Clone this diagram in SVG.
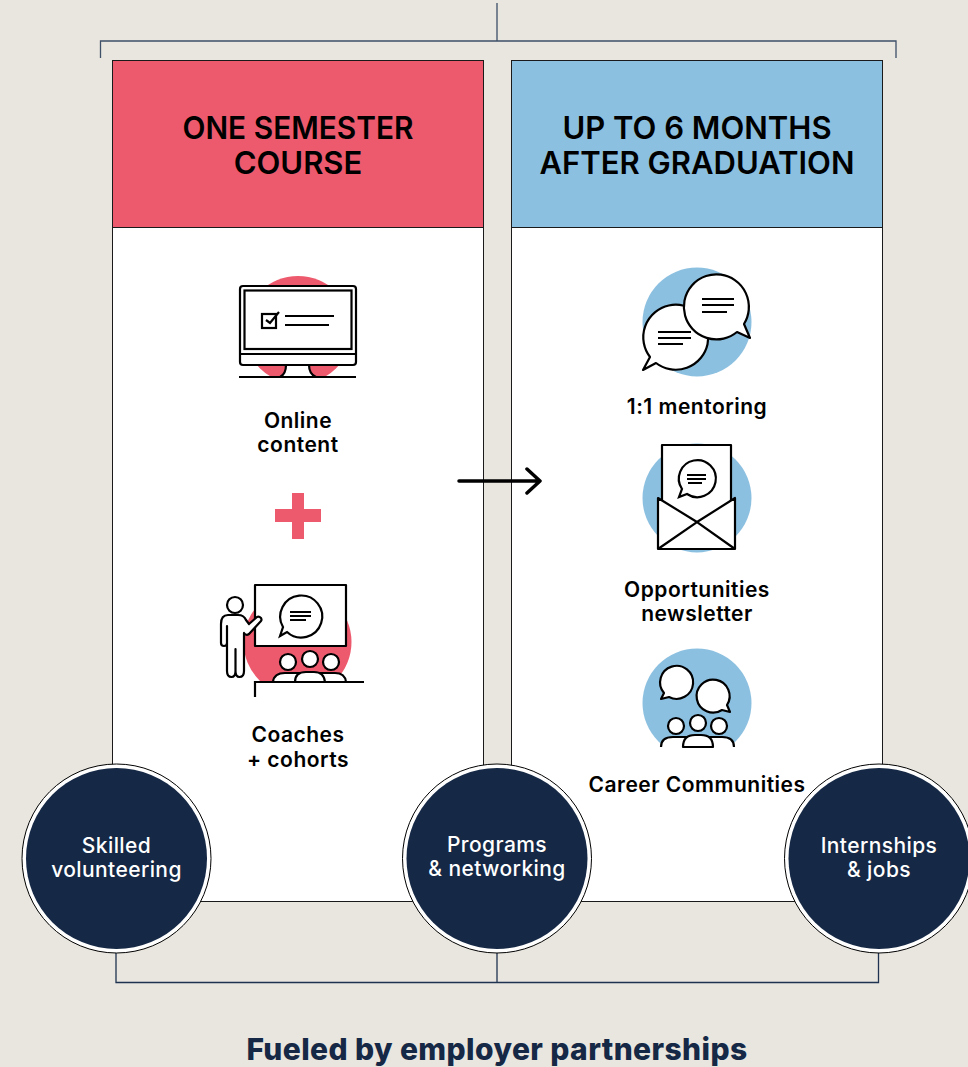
<svg xmlns="http://www.w3.org/2000/svg" width="968" height="1067" viewBox="0 0 968 1067">
<defs>
<clipPath id="clipOnline"><rect x="230" y="260" width="140" height="117"/></clipPath>
<clipPath id="clipCoach"><rect x="230" y="570" width="140" height="112"/></clipPath>
<clipPath id="clipComm"><rect x="630" y="640" width="130" height="107"/></clipPath>
</defs>
<style>
.t{font-family:"Inter","Liberation Sans",sans-serif;text-anchor:middle}
.h{font-size:31px;font-weight:600;fill:#000}
.l{font-size:21px;font-weight:600;fill:#000;letter-spacing:.5px}
.w{font-size:21px;font-weight:500;fill:#fff;letter-spacing:.4px}
.i{fill:none;stroke:#000;stroke-width:2.200}
.f{fill:#fff;stroke:#000;stroke-width:2.200;stroke-linejoin:round}
.c{fill:none;stroke:#3d4f69;stroke-width:1.300}
.b{fill:none;stroke:#1f3350;stroke-width:1.300}
.r{fill:#fff;stroke:#000}
.n{fill:#152845}
.p{stroke:#1a1a1a}
</style>
<rect width="968" height="1067" fill="#e9e6df"/>
<g id="panel-left">
<rect x="112.500" y="60.500" width="371" height="841" class="r p"/>
<rect x="112.500" y="60.500" width="371" height="167" fill="#ee5a6d" class="p"/>
<text class="t h" x="298" y="139" textLength="231" lengthAdjust="spacingAndGlyphs">ONE SEMESTER</text>
<text class="t h" x="298" y="174">COURSE</text>
</g>
<g id="panel-right">
<rect x="511.500" y="60.500" width="371" height="841" class="r p"/>
<rect x="511.500" y="60.500" width="371" height="167" fill="#8cc0e0" class="p"/>
<text class="t h" x="697" y="139">UP TO 6 MONTHS</text>
<text class="t h" x="697" y="174">AFTER GRADUATION</text>
</g>
<g id="connectors">
<path class="c" d="M497 3V41M100.500 58V41H896V58"/>
<path class="b" d="M116 950V982.500H878.500V950M497 950V982.500"/>
<path d="M459 481H539M527 469L540 481L527 493" fill="none" stroke="#000" stroke-width="3.500" stroke-linecap="round" stroke-linejoin="round"/>
</g>
<g id="online-content">
<circle cx="298" cy="330" r="54" fill="#ee5a6d" clip-path="url(#clipOnline)"/>
<rect x="240" y="286" width="116" height="79" rx="3" class="f"/>
<rect x="244.500" y="290.500" width="107" height="58.500" class="i"/>
<path class="i" d="M240 354H356"/>
<path class="f" d="M286 365q0 9-6 12H316q-7-3-7-12z"/>
<path class="i" d="M239 377H356"/>
<rect x="262" y="314" width="14" height="14" class="i"/>
<path class="i" d="M266 320l4 3l9-11M285 316H334M285 325H329"/>
<text class="t l" x="298" y="428">Online</text>
<text class="t l" x="298" y="452">content</text>
</g>
<g id="plus"><path d="M292 493H304V509H321V522H304V539H292V522H275V509H292z" fill="#ee5a6d"/></g>
<g id="coaches">
<circle cx="297.500" cy="642" r="54" fill="#ee5a6d" clip-path="url(#clipCoach)"/>
<rect x="255" y="585" width="91" height="61" class="f"/>
<path class="i" d="M287 632A21 21 0 1 0 283 627L280 636z"/>
<path class="i" d="M290 612H311M290 616H311M290 620H306"/>
<circle cx="235" cy="605" r="8" class="f"/>
<path class="f" d="M228 615H238q6 0 8 5l3 4 8-7q2-1 4 1q1 2 0 3l-12 13q-3 2-5-1V671q0 6-4.500 6q-4 0-4-6V649V671q0 6-4 6q-4.500 0-4.500-6V626V643q0 3-3 3q-3 0-3-3V624q0-9 7-9z"/>
<circle cx="288" cy="662" r="8" class="f"/>
<circle cx="331" cy="662" r="8" class="f"/>
<circle cx="310" cy="659" r="8" class="f"/>
<path class="f" d="M273 682q1-9 12-9H335q10 0 11 9z"/>
<path class="f" d="M295 682q0-10 11-10H314q10 0 11 10z"/>
<path class="i" d="M255 697V682H364"/>
<text class="t l" x="298" y="742">Coaches</text>
<text class="t l" x="298" y="767">+ cohorts</text>
</g>
<g id="mentoring">
<circle cx="697" cy="322" r="54.500" fill="#8cc0e0"/>
<path class="f" d="M656 363A32.500 32.500 0 1 0 650 357L643 370z"/>
<path class="f" d="M737 332A32.500 32.500 0 1 1 744 324L750 338z"/>
<path class="i" d="M658 332H691M658 338H691M658 344H683M702 299H734M702 305H734M702 312H727"/>
<text class="t l" x="697" y="414">1:1 mentoring</text>
</g>
<g id="newsletter">
<circle cx="697" cy="498" r="54.500" fill="#8cc0e0"/>
<rect x="662" y="445" width="69" height="80" class="f"/>
<path class="i" d="M687 494A18.500 18.500 0 1 0 682 489L679 497z"/>
<path class="i" d="M687 475H706M687 479H706M688 483H702"/>
<path class="f" d="M658 498L697 522L735 498V549H658z"/>
<path class="i" d="M658 549L697 522L735 549"/>
<text class="t l" x="697" y="597">Opportunities</text>
<text class="t l" x="697" y="621">newsletter</text>
</g>
<g id="communities">
<circle cx="697" cy="703" r="54.500" fill="#8cc0e0" clip-path="url(#clipComm)"/>
<path class="f" d="M669 697A16.500 16.500 0 1 0 664 693L661 699z"/>
<path class="f" d="M722 710A16.500 16.500 0 1 1 727 705L730 712z"/>
<path class="f" d="M661 747q0-10 12-10H722q12 0 12 10"/>
<circle cx="676" cy="726" r="8" class="f"/>
<circle cx="719" cy="726" r="8" class="f"/>
<circle cx="698" cy="723" r="8" class="f"/>
<path class="f" d="M683 747q0-12 12-12H701q12 0 12 12z"/>
<text class="t l" x="697" y="792">Career Communities</text>
</g>
<g id="volunteering">
<circle cx="116.500" cy="858.500" r="94.500" class="r"/>
<circle cx="116.500" cy="858.500" r="90.500" class="n"/>
<text class="t w" x="116.500" y="853">Skilled</text>
<text class="t w" x="116.500" y="877">volunteering</text>
</g>
<g id="programs">
<circle cx="497" cy="858.500" r="94.500" class="r"/>
<circle cx="497" cy="858.500" r="90.500" class="n"/>
<text class="t w" x="497" y="852">Programs</text>
<text class="t w" x="497" y="876">&amp; networking</text>
</g>
<g id="internships">
<circle cx="879" cy="858.500" r="94.500" class="r"/>
<circle cx="879" cy="858.500" r="90.500" class="n"/>
<text class="t w" x="879" y="853">Internships</text>
<text class="t w" x="879" y="877">&amp; jobs</text>
</g>
<text class="t" x="497" y="1060" font-size="30" font-weight="800" letter-spacing=".4" fill="#152845">Fueled by employer partnerships</text>
</svg>
